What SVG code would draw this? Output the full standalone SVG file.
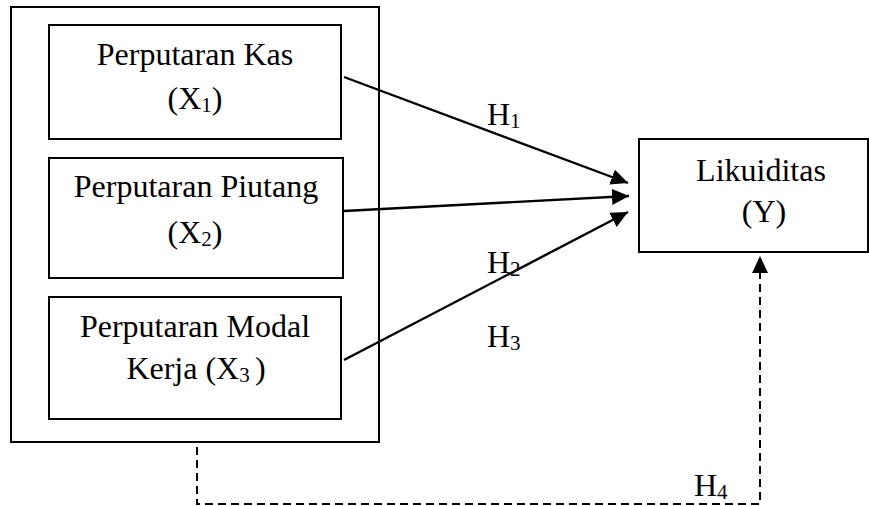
<svg xmlns="http://www.w3.org/2000/svg" width="869" height="506" viewBox="0 0 869 506">
<style>
.box{fill:#fff;stroke:#000;stroke-width:2}
.t{font-family:"Liberation Serif","Times New Roman",serif;font-size:32px;fill:#000;text-anchor:middle}
.h{font-family:"Liberation Serif","Times New Roman",serif;font-size:32px;fill:#000}
.sub{font-size:21px}
.c{stroke:#000;stroke-width:2.4;fill:none}
.d{stroke:#000;stroke-width:2;fill:none;stroke-dasharray:8 5}
</style>
<defs>
<marker id="ah" markerUnits="userSpaceOnUse" markerWidth="20" markerHeight="20" refX="17" refY="8" orient="auto">
<path d="M0,0 L17,8 L0,16 Z" fill="#000"/>
</marker>
</defs>
<g id="group-x">
<rect class="box" x="11" y="7" width="368" height="435"/>
</g>
<g id="x1">
<rect class="box" x="49" y="25" width="292" height="114"/>
<text class="t" x="195" y="65">Perputaran Kas</text>
<text class="t" x="195" y="109">(X<tspan class="sub" dy="3">1</tspan><tspan dy="-3">)</tspan></text>
</g>
<g id="x2">
<rect class="box" x="49" y="158" width="294" height="120"/>
<text class="t" x="196" y="197">Perputaran Piutang</text>
<text class="t" x="195" y="243">(X<tspan class="sub" dy="3">2</tspan><tspan dy="-3">)</tspan></text>
</g>
<g id="x3">
<rect class="box" x="49" y="297" width="292" height="122"/>
<text class="t" x="195" y="337">Perputaran Modal</text>
<text class="t" x="196" y="379">Kerja (X<tspan class="sub" dy="3">3 </tspan><tspan dy="-3">)</tspan></text>
</g>
<g id="y">
<rect class="box" x="639" y="139" width="229" height="113"/>
<text class="t" x="761" y="181">Likuiditas</text>
<text class="t" x="764" y="222">(Y)</text>
</g>
<g id="connectors">
<line class="c" x1="344" y1="77" x2="628" y2="183" marker-end="url(#ah)"/>
<line class="c" x1="344" y1="211" x2="629" y2="196" marker-end="url(#ah)"/>
<line class="c" x1="344" y1="360" x2="628" y2="212" marker-end="url(#ah)"/>
<path class="d" d="M197,447 V504 H760 V256" marker-end="url(#ah)"/>
</g>
<g id="labels">
<text class="h" x="487" y="125">H<tspan class="sub" dy="3">1</tspan></text>
<text class="h" x="487" y="273">H<tspan class="sub" dy="3">2</tspan></text>
<text class="h" x="487" y="347">H<tspan class="sub" dy="3">3</tspan></text>
<text class="h" x="694" y="496">H<tspan class="sub" dy="3">4</tspan></text>
</g>
</svg>
